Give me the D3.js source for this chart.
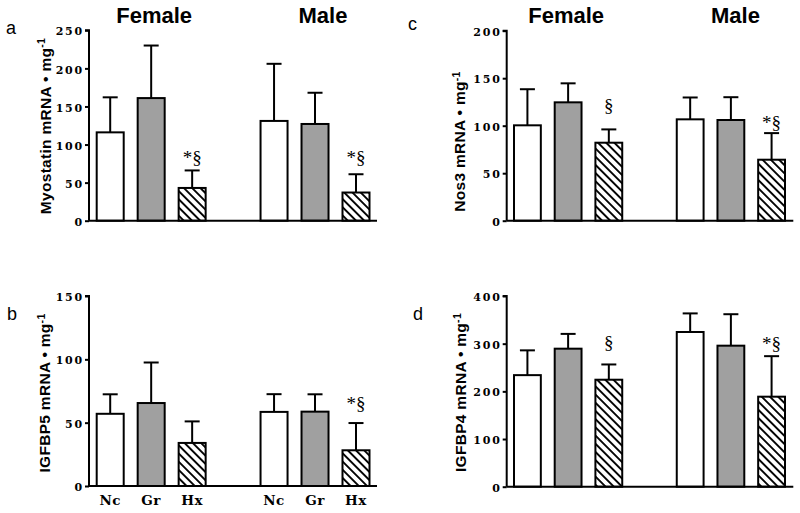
<!DOCTYPE html>
<html><head><meta charset="utf-8">
<script src="https://cdn.jsdelivr.net/npm/d3@7"></script>
<style>
html,body{margin:0;padding:0;background:#fff;}
svg{display:block;}
</style></head>
<body>
<svg id="chart" width="800" height="513"></svg>
<script>
// ---- data ----
const groups = ["Female", "Male"];
const treatments = ["Nc", "Gr", "Hx"];

const myostatinMean = [116, 161, 43, 131, 127, 37];
const myostatinSD   = [46, 69, 23, 75, 41, 24];

const igfbp5Mean = [57, 65.5, 34, 58.5, 58.7, 28.2];
const igfbp5SD   = [15.4, 32, 17, 14, 13.7, 21.5];

const nos3Mean = [100.4, 124.6, 82.1, 106.7, 106, 64.2];
const nos3SD   = [38, 20, 14, 23, 24, 28];

const igfbp4Mean = [234, 289.5, 224.4, 324.5, 295.8, 188.8];
const igfbp4SD   = [52, 31, 32, 39, 66, 85];

const ticksA = [0, 50, 100, 150, 200, 250];
const ticksB = [0, 50, 100, 150];
const ticksC = [0, 50, 100, 150, 200];
const ticksD = [0, 100, 200, 300, 400];

// significance marks: [group, treatment, text, level (data units)]
const marksA = [["Female", "Hx", "*§", 75], ["Male", "Hx", "*§", 75]];
const marksB = [["Male", "Hx", "*§", 60]];
const marksC = [["Female", "Hx", "§", 114], ["Male", "Hx", "*§", 97]];
const marksD = [["Female", "Hx", "§", 289], ["Male", "Hx", "*§", 286]];

// ---- layout ----
const panels = [
  {letter: "a", label: "Myostatin mRNA • mg", mean: myostatinMean, sd: myostatinSD, ticks: ticksA, marks: marksA,
   ax0: 89, ax1: 377, bx0: 96.7, bx1: 369.5, y0: 220.7, y1: 30.3, letterPos: [6, 34],
   labelPos: [50.5, 126], headers: [154.2, 323], xLabels: false},
  {letter: "b", label: "IGFBP5 mRNA • mg", mean: igfbp5Mean, sd: igfbp5SD, ticks: ticksB, marks: marksB,
   ax0: 89, ax1: 377, bx0: 96.7, bx1: 369.5, y0: 486, y1: 296, letterPos: [7, 319.5],
   labelPos: [50, 393], headers: null, xLabels: true},
  {letter: "c", label: "Nos3 mRNA • mg", mean: nos3Mean, sd: nos3SD, ticks: ticksC, marks: marksC,
   ax0: 506.7, ax1: 793.3, bx0: 514, bx1: 785, y0: 220.7, y1: 30.7, letterPos: [408, 30],
   labelPos: [465, 141.5], headers: [566.2, 735.5], xLabels: false},
  {letter: "d", label: "IGFBP4 mRNA • mg", mean: igfbp4Mean, sd: igfbp4SD, ticks: ticksD, marks: marksD,
   ax0: 506.7, ax1: 793.3, bx0: 514, bx1: 785, y0: 486.7, y1: 296, letterPos: [413, 319.5],
   labelPos: [466, 392.5], headers: null, xLabels: false}
];

const svg = d3.select("#chart");
const defs = svg.append("defs");
const pat = defs.append("pattern")
  .attr("id", "hatch").attr("patternUnits", "userSpaceOnUse")
  .attr("width", 5.8).attr("height", 10)
  .attr("patternTransform", "rotate(-45)");
pat.append("rect").attr("width", 5.8).attr("height", 10).attr("fill", "#fff");
pat.append("line").attr("x1", 2.9).attr("x2", 2.9).attr("y1", -1).attr("y2", 11)
  .attr("stroke", "#000").attr("stroke-width", 1.9);

const fills = {Nc: "#ffffff", Gr: "#a0a0a0", Hx: "url(#hatch)"};
const tickFont = "'DejaVu Serif', 'Liberation Serif', serif";
const sansFont = "'Liberation Sans', Arial, sans-serif";
const serifFont = "'Liberation Serif', 'Times New Roman', serif";

panels.forEach(p => {
  const g = svg.append("g");
  const maxT = p.ticks[p.ticks.length - 1];
  const y = d3.scaleLinear().domain([0, maxT]).range([p.y0, p.y1]);
  const outer = d3.scaleBand().domain(groups).range([p.bx0, p.bx1]).paddingInner(0.335).paddingOuter(0);
  const inner = d3.scaleBand().domain(treatments).range([0, outer.bandwidth()]).paddingInner(0.341).paddingOuter(0);

  const rows = [];
  groups.forEach((gr, gi) => treatments.forEach((t, ti) => {
    const i = gi * treatments.length + ti;
    rows.push({group: gr, treat: t, mean: p.mean[i], sd: p.sd[i]});
  }));
  const cx = d => outer(d.group) + inner(d.treat) + inner.bandwidth() / 2;

  // error bars (upper only)
  const capW = 15;
  g.selectAll(".err").data(rows).join("line")
    .attr("x1", cx).attr("x2", cx)
    .attr("y1", d => y(d.mean)).attr("y2", d => y(d.mean + d.sd))
    .attr("stroke", "#000").attr("stroke-width", 2);
  g.selectAll(".cap").data(rows).join("line")
    .attr("x1", d => cx(d) - capW / 2).attr("x2", d => cx(d) + capW / 2)
    .attr("y1", d => y(d.mean + d.sd)).attr("y2", d => y(d.mean + d.sd))
    .attr("stroke", "#000").attr("stroke-width", 2);

  // bars
  g.selectAll(".bar").data(rows).join("rect")
    .attr("x", d => outer(d.group) + inner(d.treat))
    .attr("width", inner.bandwidth())
    .attr("y", d => y(d.mean))
    .attr("height", d => y(0) - y(d.mean))
    .attr("fill", d => fills[d.treat])
    .attr("stroke", "#000").attr("stroke-width", 2);

  // y axis
  const yAxis = d3.axisLeft(y).tickValues(p.ticks).tickSize(4).tickPadding(1).tickFormat(d3.format("d"));
  const ya = g.append("g").attr("transform", `translate(${p.ax0},0)`).call(yAxis);
  ya.select(".domain").attr("stroke", "#000").attr("stroke-width", 2)
    .attr("d", `M-4,${p.y1}H0V${p.y0}`);
  ya.selectAll(".tick line").attr("stroke", "#000").attr("stroke-width", 2);
  ya.selectAll(".tick text")
    .attr("font-family", tickFont).attr("font-weight", "bold").attr("font-size", 11)
    .attr("letter-spacing", 1.8).attr("fill", "#000").attr("dy", "0.42em");

  // x axis line
  g.append("line").attr("x1", p.ax0).attr("x2", p.ax1).attr("y1", p.y0).attr("y2", p.y0)
    .attr("stroke", "#000").attr("stroke-width", 2);

  // x labels
  if (p.xLabels) {
    g.selectAll(".xl").data(rows).join("text")
      .attr("x", cx).attr("y", p.y0 + 19)
      .attr("text-anchor", "middle")
      .attr("font-family", tickFont).attr("font-weight", "bold").attr("font-size", 13.5)
      .attr("letter-spacing", 0.5)
      .text(d => d.treat);
  }

  // headers
  if (p.headers) {
    groups.forEach((gr, i) => {
      g.append("text").attr("x", p.headers[i]).attr("y", 22.7)
        .attr("text-anchor", "middle")
        .attr("font-family", sansFont).attr("font-weight", "bold").attr("font-size", 22)
        .text(gr);
    });
  }

  // panel letter
  g.append("text").attr("x", p.letterPos[0]).attr("y", p.letterPos[1])
    .attr("font-family", sansFont).attr("font-size", 18).text(p.letter);

  // y label
  const yl = g.append("text")
    .attr("transform", `translate(${p.labelPos[0]},${p.labelPos[1]}) rotate(-90)`)
    .attr("text-anchor", "middle")
    .attr("font-family", sansFont).attr("font-weight", "bold").attr("font-size", 15.5)
    .attr("letter-spacing", 0.3);
  yl.append("tspan").text(p.label);
  yl.append("tspan").attr("dy", "-0.5em").attr("font-size", 10.5).text("-1");

  // significance marks
  g.selectAll(".mark").data(p.marks).join("text")
    .attr("x", d => outer(d[0]) + inner(d[1]) + inner.bandwidth() / 2)
    .attr("y", d => y(d[3]))
    .attr("text-anchor", "middle")
    .attr("font-family", serifFont).attr("font-size", 19)
    .text(d => d[2]);
});
</script>
</body></html>
